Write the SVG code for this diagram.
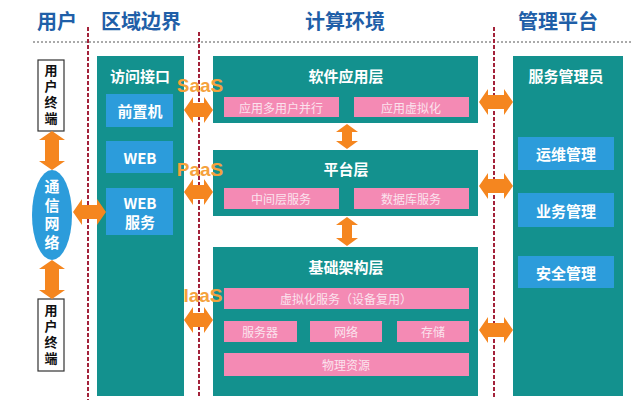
<svg xmlns="http://www.w3.org/2000/svg" width="640" height="407" viewBox="0 0 640 407">
<style>
text{font-family:"Noto Sans CJK SC","Noto Sans",sans-serif;font-weight:bold;text-anchor:middle;dominant-baseline:central}
.hd{fill:#1F5FA8;font-size:20px}
.teal{fill:#13918E}
.blue{fill:#2C9CDB}
.pink{fill:#F48AB4}
.wt{fill:#fff;font-size:15px}
.pt{fill:#FBE3EE;font-size:12px;font-weight:normal}
.arr{fill:#F5861F}
.vl{stroke:#A3223A;stroke-width:2;stroke-dasharray:4,2;fill:none}
.term{fill:#fff;stroke:#333;stroke-width:1.2}
.tt{fill:#111;font-size:13px;writing-mode:vertical-rl;letter-spacing:3px}
.vt{fill:#fff;font-size:15px;writing-mode:vertical-rl;letter-spacing:3.5px}
.sa{fill:#F5A23C;font-size:19px;font-family:"Liberation Sans",Arial,sans-serif}
</style>
<rect width="640" height="407" fill="#fff"/>
<g id="headers">
<text class="hd" x="57" y="20">用户</text>
<text class="hd" x="141" y="20">区域边界</text>
<text class="hd" x="345" y="20">计算环境</text>
<text class="hd" x="558" y="20">管理平台</text>
<line x1="33" y1="42" x2="632" y2="42" stroke="#555" stroke-width="1" stroke-dasharray="2,2"/>
<line class="vl" x1="88" y1="27" x2="88" y2="400"/>
<line class="vl" x1="199" y1="32" x2="199" y2="398"/>
<line class="vl" x1="494" y1="27" x2="494" y2="398"/>
</g>
<g id="term-top">
<rect class="term" x="38" y="60" width="26" height="71"/>
<text class="tt" x="51" y="96">用户终端</text>
</g>
<g id="term-bottom">
<rect class="term" x="38" y="299" width="26" height="72"/>
<text class="tt" x="51" y="336">用户终端</text>
</g>
<g id="network">
<ellipse class="blue" cx="52" cy="215" rx="20" ry="45"/>
<text class="vt" x="52" y="216">通信网络</text>
</g>
<g id="access">
<rect class="teal" x="97" y="56" width="87" height="340"/>
<text class="wt" x="140" y="75">访问接口</text>
<rect class="blue" x="106" y="94" width="67" height="33"/>
<text class="wt" x="140" y="110">前置机</text>
<rect class="blue" x="106" y="141" width="67" height="32"/>
<text class="wt" x="140" y="157">WEB</text>
<rect class="blue" x="106" y="188" width="67" height="47"/>
<text class="wt" x="140" y="202">WEB</text>
<text class="wt" x="140" y="221">服务</text>
</g>
<g id="saas-layer">
<rect class="teal" x="213" y="56" width="265" height="67"/>
<text class="wt" x="346" y="75">软件应用层</text>
<rect class="pink" x="224" y="97" width="115" height="20"/>
<text class="pt" x="281" y="107">应用多用户并行</text>
<rect class="pink" x="354" y="97" width="115" height="20"/>
<text class="pt" x="411" y="107">应用虚拟化</text>
</g>
<g id="paas-layer">
<rect class="teal" x="213" y="150" width="265" height="66"/>
<text class="wt" x="346" y="168">平台层</text>
<rect class="pink" x="224" y="188" width="115" height="21"/>
<text class="pt" x="281" y="198">中间层服务</text>
<rect class="pink" x="354" y="188" width="115" height="21"/>
<text class="pt" x="411" y="198">数据库服务</text>
</g>
<g id="iaas-layer">
<rect class="teal" x="213" y="247" width="265" height="149"/>
<text class="wt" x="346" y="266">基础架构层</text>
<rect class="pink" x="224" y="288" width="245" height="21"/>
<text class="pt" x="346" y="298">虚拟化服务（设备复用）</text>
<rect class="pink" x="224" y="321" width="73" height="21"/>
<text class="pt" x="260" y="331">服务器</text>
<rect class="pink" x="310" y="321" width="72" height="21"/>
<text class="pt" x="346" y="331">网络</text>
<rect class="pink" x="397" y="321" width="72" height="21"/>
<text class="pt" x="433" y="331">存储</text>
<rect class="pink" x="224" y="353" width="245" height="23"/>
<text class="pt" x="346" y="364">物理资源</text>
</g>
<g id="mgmt">
<rect class="teal" x="513" y="56" width="110" height="340"/>
<text class="wt" x="566" y="75">服务管理员</text>
<rect class="blue" x="518" y="137" width="96" height="33"/>
<text class="wt" x="566" y="153">运维管理</text>
<rect class="blue" x="518" y="193" width="96" height="34"/>
<text class="wt" x="566" y="210">业务管理</text>
<rect class="blue" x="518" y="256" width="96" height="32"/>
<text class="wt" x="566" y="272">安全管理</text>
</g>
<g id="labels">
<text class="sa" x="200" y="85">SaaS</text>
<text class="sa" x="200" y="169">PaaS</text>
<text class="sa" x="203" y="295">IaaS</text>
</g>
<g id="connectors">
<polygon class="arr" points="52,131 65,140 59,140 59,161 65,161 52,170 39,161 45,161 45,140 39,140"/>
<polygon class="arr" points="52,260 65,269 59,269 59,290 65,290 52,299 39,290 45,290 45,269 39,269"/>
<polygon class="arr" points="73,212 82,199 82,205 97,205 97,199 106,212 97,225 97,219 82,219 82,225"/>
<polygon class="arr" points="184,110 193,97 193,103 204,103 204,97 213,110 204,123 204,117 193,117 193,123"/>
<polygon class="arr" points="184,192 193,179 193,185 204,185 204,179 213,192 204,205 204,199 193,199 193,205"/>
<polygon class="arr" points="184,320 193,307 193,313 204,313 204,307 213,320 204,333 204,327 193,327 193,333"/>
<polygon class="arr" points="479,102 488,89 488,95 504,95 504,89 513,102 504,115 504,109 488,109 488,115"/>
<polygon class="arr" points="479,186 488,173 488,179 504,179 504,173 513,186 504,199 504,193 488,193 488,199"/>
<polygon class="arr" points="479,330 488,317 488,323 504,323 504,317 513,330 504,343 504,337 488,337 488,343"/>
<polygon class="arr" points="347,124 358,132 352,132 352,141 358,141 347,149 336,141 342,141 342,132 336,132"/>
<polygon class="arr" points="347,217 358,225 352,225 352,238 358,238 347,246 336,238 342,238 342,225 336,225"/>
</g>
</svg>
